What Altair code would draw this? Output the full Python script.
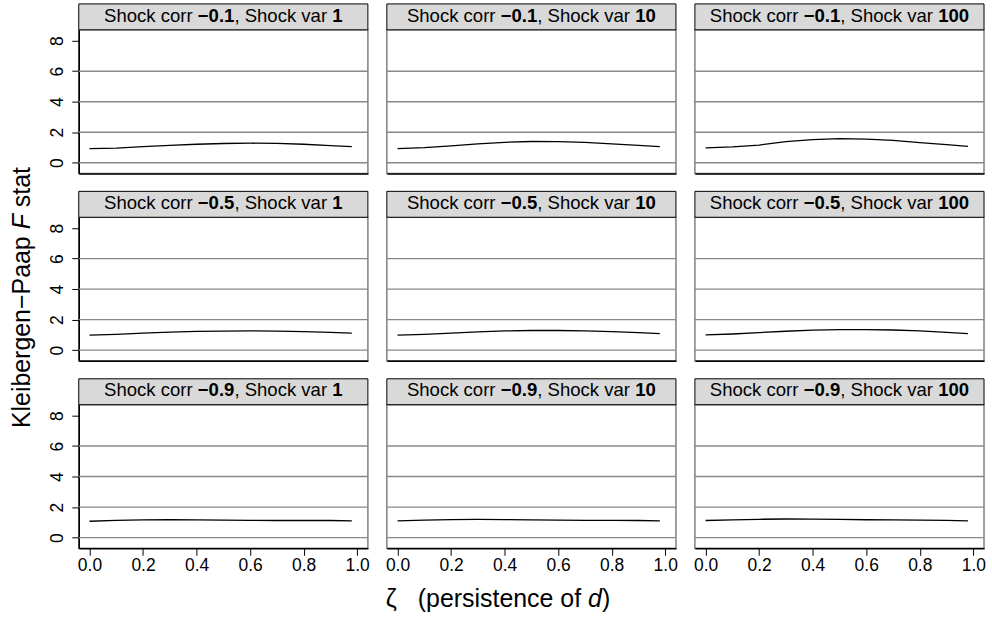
import altair as alt
import pandas as pd

# ---------------- data ----------------
ZETA = [0.0, 0.1, 0.2, 0.3, 0.4, 0.5, 0.6, 0.7, 0.8, 0.9, 0.98]

CORR_LABELS = ["\u22120.1", "\u22120.5", "\u22120.9"]
VAR_LABELS = ["1", "10", "100"]

# Kleibergen-Paap F stat, one list per (shock corr, shock var) panel
KP_C01_V1 = [0.93, 0.96, 1.05, 1.14, 1.21, 1.26, 1.28, 1.27, 1.21, 1.12, 1.06]
KP_C01_V10 = [0.93, 0.99, 1.10, 1.24, 1.34, 1.39, 1.38, 1.33, 1.24, 1.14, 1.05]
KP_C01_V100 = [0.98, 1.04, 1.16, 1.38, 1.52, 1.58, 1.55, 1.46, 1.32, 1.18, 1.07]
KP_C05_V1 = [0.98, 1.04, 1.11, 1.18, 1.23, 1.25, 1.26, 1.25, 1.22, 1.17, 1.12]
KP_C05_V10 = [0.98, 1.04, 1.12, 1.20, 1.26, 1.29, 1.29, 1.27, 1.22, 1.15, 1.08]
KP_C05_V100 = [1.00, 1.06, 1.15, 1.24, 1.31, 1.35, 1.35, 1.32, 1.26, 1.17, 1.08]
KP_C09_V1 = [1.07, 1.13, 1.16, 1.17, 1.16, 1.15, 1.13, 1.12, 1.12, 1.12, 1.10]
KP_C09_V10 = [1.10, 1.15, 1.18, 1.19, 1.18, 1.16, 1.14, 1.13, 1.13, 1.12, 1.10]
KP_C09_V100 = [1.12, 1.16, 1.20, 1.22, 1.21, 1.19, 1.17, 1.16, 1.15, 1.13, 1.10]

KP = [
    [KP_C01_V1, KP_C01_V10, KP_C01_V100],
    [KP_C05_V1, KP_C05_V10, KP_C05_V100],
    [KP_C09_V1, KP_C09_V10, KP_C09_V100],
]

XTICKS = [0.0, 0.2, 0.4, 0.6, 0.8, 1.0]
YTICKS = [0, 2, 4, 6, 8]
GRID = [0, 2, 4, 6]

# ---------------- style ----------------
FONT = "Liberation Sans"
W, H, SH = 290, 144, 26
TICK_FS = 17.5
STRIP_FS = 18.6
TITLE_FS = 25
GRID_COLOR = "#888888"
FRAME_COLOR = "#808080"

XS = alt.Scale(domain=[-0.04, 1.04], nice=False, zero=False)
YS = alt.Scale(domain=[-0.70, 8.71], nice=False, zero=False)

# Arial / Liberation Sans advance widths (1/1000 em)
REG = {' ': 278, 'S': 667, 'h': 556, 'o': 556, 'c': 500, 'k': 500, 'r': 333,
       ',': 278, 'v': 500, 'a': 556, 'K': 667, 'l': 222, 'e': 556, 'i': 222,
       'b': 556, 'g': 556, 'n': 556, '\u2212': 584, 'P': 667, 'p': 556,
       's': 500, 't': 278, '(': 333, ')': 333, 'f': 278, 'd': 556, 'F': 611,
       '0': 556, '1': 556, '.': 278, '5': 556, '9': 556}
BOLD = {'\u2212': 584, '.': 278}


def tw(s, size, bold=False):
    tot = 0
    for ch in s:
        if bold and ch in BOLD:
            tot += BOLD[ch]
        else:
            tot += REG.get(ch, 556)
    return tot * size / 1000.0


ONE = pd.DataFrame({"k": [0]})


def rich_text(parts, size, along_start, cross, rotate=False):
    """parts: list of (text, weight, style). Returns text layers laid out in a row."""
    layers = []
    pos = along_start
    for s, wt, st in parts:
        stripped = s.lstrip(" ")
        lead = tw(s[: len(s) - len(stripped)], size)
        body = stripped.rstrip(" ")
        start = pos + lead if not rotate else pos - lead
        if body:
            mk = alt.Chart(ONE).mark_text(
                text=body, align="left", baseline="alphabetic", fontSize=size,
                fontWeight=wt, fontStyle=st, font=FONT, color="black",
                angle=270 if rotate else 0,
            )
            if rotate:
                mk = mk.encode(x=alt.value(cross), y=alt.value(start))
            else:
                mk = mk.encode(x=alt.value(start), y=alt.value(cross))
            layers.append(mk)
        w = tw(s, size, bold=(wt == "bold"))
        pos = pos + w if not rotate else pos - w
    return layers


def panel(r, c):
    df = pd.DataFrame({"zeta": ZETA, "kp": KP[r][c]})
    if r == 2:
        xax = alt.Axis(values=XTICKS, format=".1f", title=None, grid=False,
                       domainColor="black", domainWidth=1.5, tickColor="black",
                       tickSize=7, tickWidth=1, labelFontSize=TICK_FS,
                       labelColor="black", labelPadding=1, labelFlush=False)
    else:
        xax = alt.Axis(labels=False, ticks=False, title=None, grid=False,
                       domainColor="black", domainWidth=1.5)
    if c == 0:
        yax = alt.Axis(values=YTICKS, format="d", title=None, grid=False,
                       domainColor="black", domainWidth=1.5, tickColor="black",
                       tickSize=7, tickWidth=1, labelFontSize=TICK_FS,
                       labelColor="black", labelAngle=270, labelAlign="center",
                       labelBaseline="alphabetic", labelPadding=9,
                       labelFlush=False)
    else:
        yax = None
    x = alt.X("zeta:Q", scale=XS, axis=xax)
    y = alt.Y("kp:Q", scale=YS, axis=yax)

    grid = alt.Chart(pd.DataFrame({"kp": GRID})).mark_rule(
        color=GRID_COLOR, strokeWidth=1.4).encode(y=y)
    line = alt.Chart(df).mark_line(color="black", strokeWidth=1.3).encode(x=x, y=y)
    strip = alt.Chart(ONE).mark_rect(fill="#d9d9d9", stroke="black", strokeWidth=1).encode(
        x=alt.value(0), x2=alt.value(W), y=alt.value(-SH), y2=alt.value(0))

    parts = [("Shock corr ", "normal", "normal"), (CORR_LABELS[r], "bold", "normal"),
             (", Shock var ", "normal", "normal"), (VAR_LABELS[c], "bold", "normal")]
    total = sum(tw(s, STRIP_FS, bold=(wt == "bold")) for s, wt, _ in parts)
    layers = [grid, line, strip] + rich_text(parts, STRIP_FS, W / 2 - total / 2, -8.3)

    if r == 1 and c == 0:
        yparts = [("Kleibergen\u2212Paap ", "normal", "normal"), ("F", "normal", "italic"),
                  (" stat", "normal", "normal")]
        ytot = sum(tw(s, TITLE_FS) for s, _, _ in yparts)
        layers += rich_text(yparts, TITLE_FS, 80.5 + ytot / 2, -48.7, rotate=True)
    if r == 2 and c == 1:
        layers += rich_text([("\u03b6", "normal", "normal")], TITLE_FS, -1, 203)
        xparts = [("(persistence of ", "normal", "normal"), ("d", "normal", "italic"),
                  (")", "normal", "normal")]
        layers += rich_text(xparts, TITLE_FS, 31, 203)

    return alt.layer(*layers).properties(width=W, height=H)


charts = [panel(r, c) for r in range(3) for c in range(3)]

chart = (
    alt.concat(*charts, columns=3, spacing={"row": 44, "column": 19}, bounds="flush")
    .properties(padding={"left": 9, "top": 1, "right": 5, "bottom": 3})
    .configure(font=FONT)
    .configure_view(stroke=FRAME_COLOR, strokeWidth=1.5)
)

chart.save("out.html", embed_options={"renderer": "svg", "actions": False})
